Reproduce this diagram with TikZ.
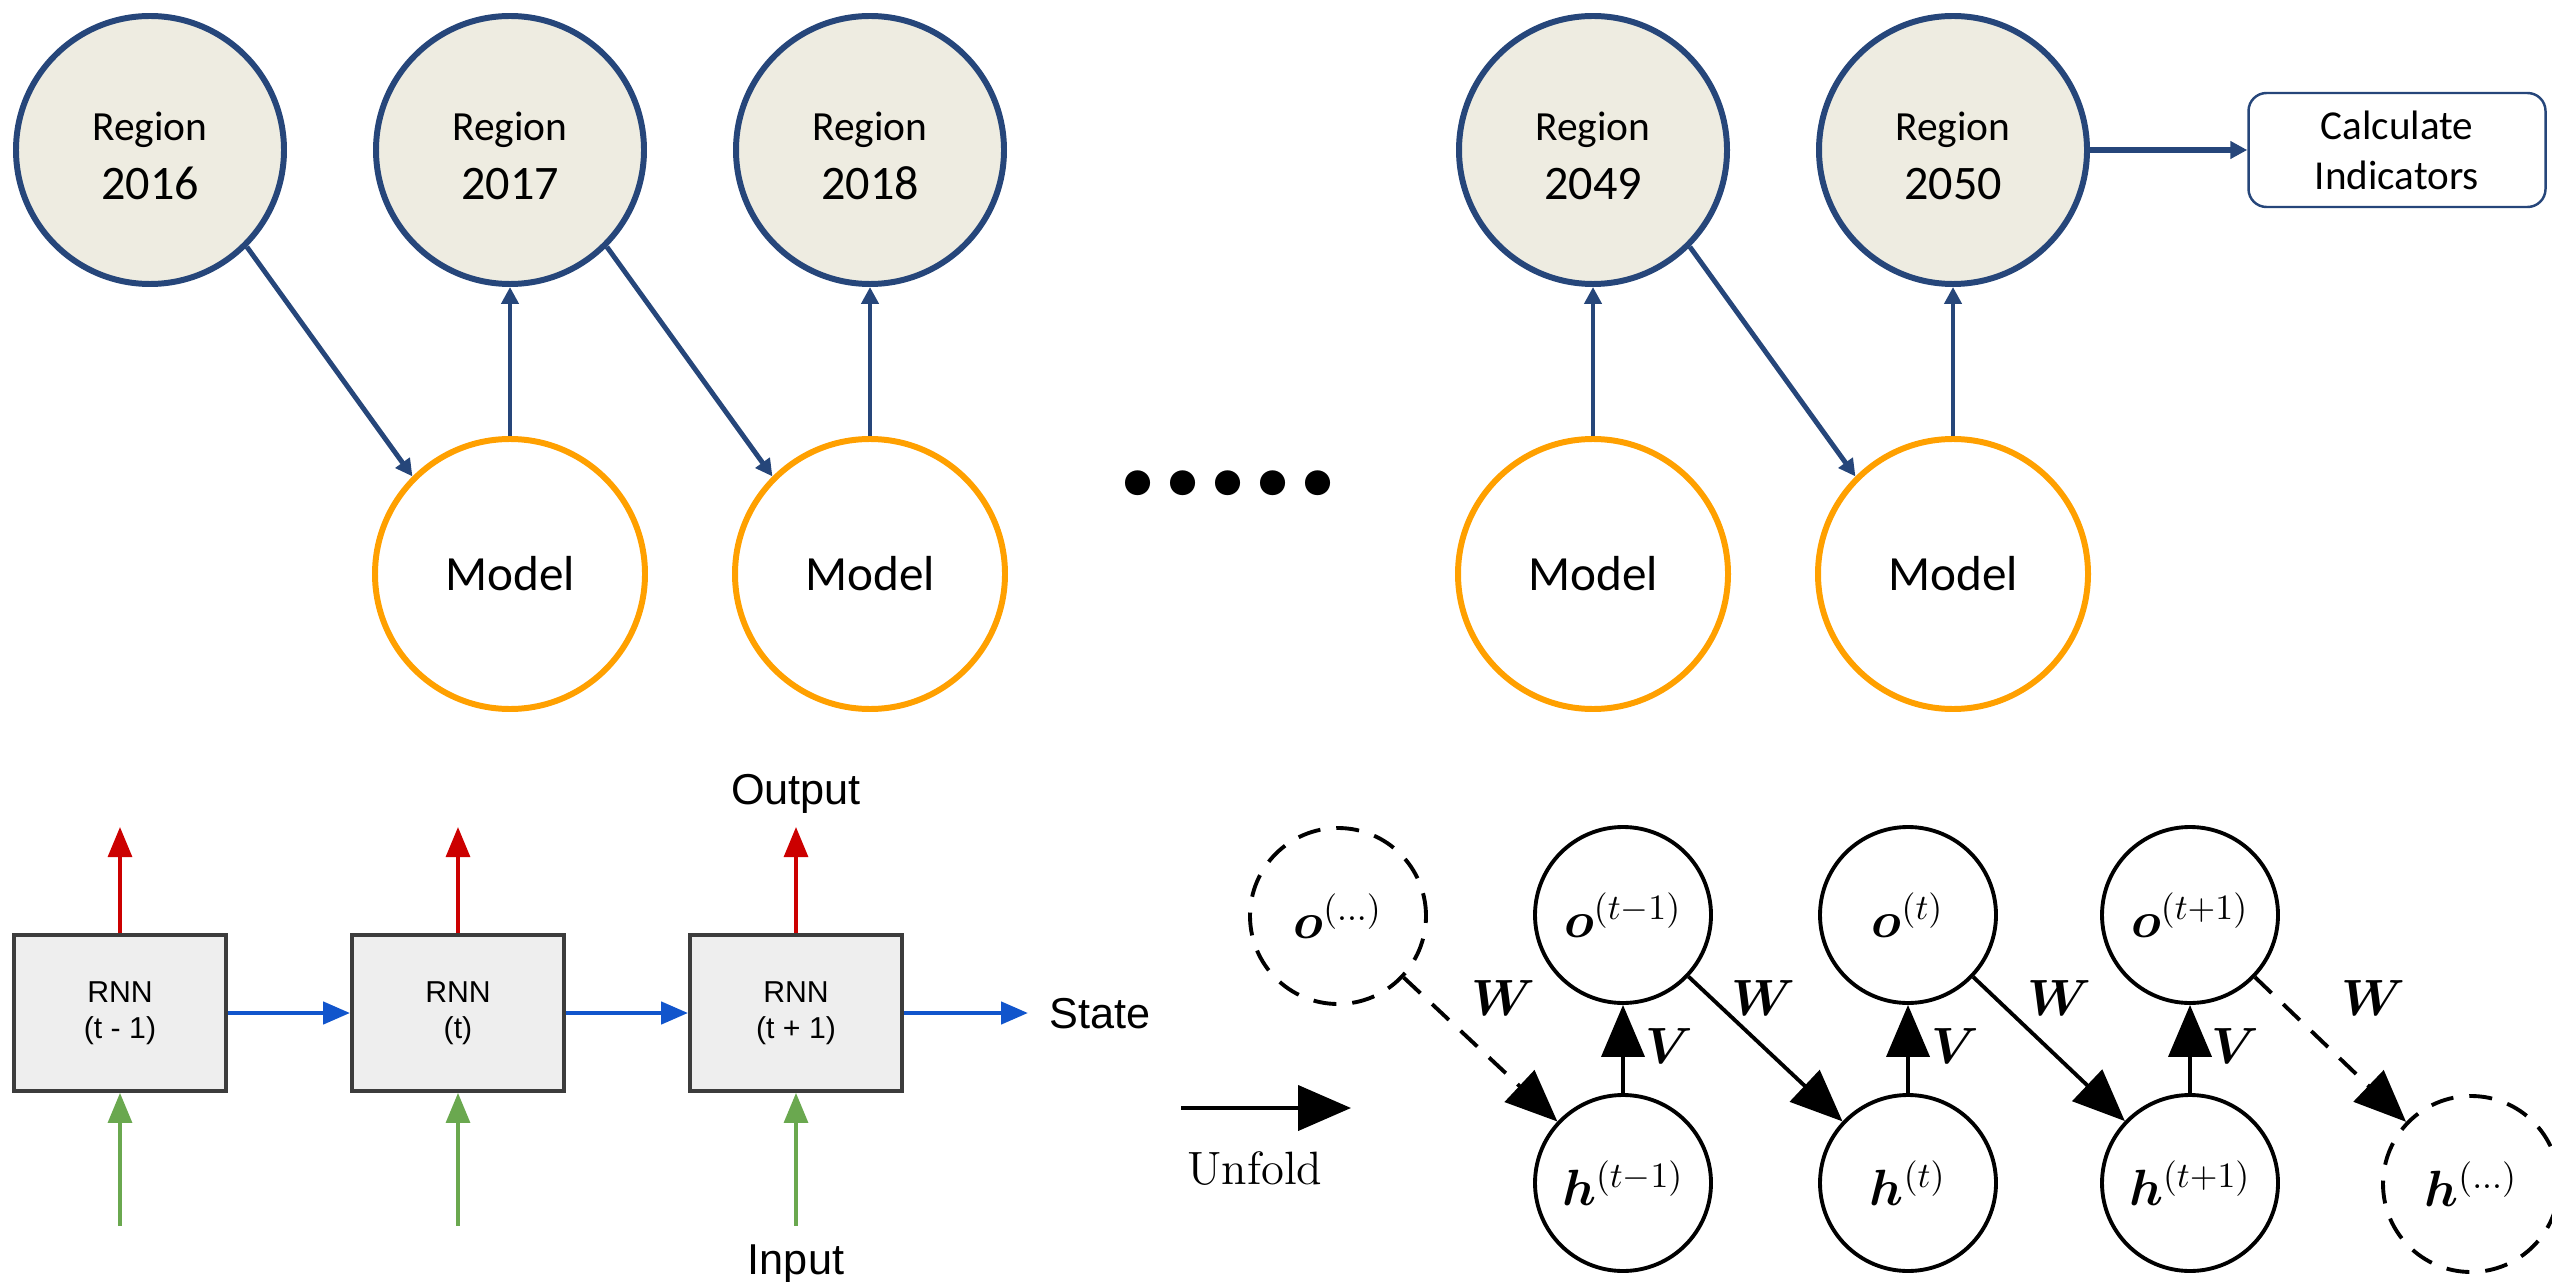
\documentclass[tikz,border=0pt]{standalone}
\usepackage{fix-cm}
\usepackage{bm}
\usepackage{fontspec}
\newfontfamily\calibri{Carlito}
\newfontfamily\arialfont{Liberation Sans}
\usetikzlibrary{arrows.meta,shapes}
\tikzset {>=Stealth}
\definecolor{regblue}{RGB}{38,70,122}
\definecolor{regfill}{RGB}{238,236,225}
\definecolor{modelorange}{RGB}{255,160,0}
\definecolor{rnnfill}{RGB}{238,238,238}
\definecolor{rnnedge}{RGB}{60,60,60}
\definecolor{outred}{RGB}{204,0,0}
\definecolor{ingreen}{RGB}{106,168,79}
\definecolor{stateblue}{RGB}{17,85,204}
\tikzset{
  region/.style={circle,draw=regblue,line width=1.7pt,fill=regfill,minimum size=2.68cm,inner sep=0pt,align=center,font=\calibri\fontsize{11.8}{17}\selectfont},
  model/.style={circle,draw=modelorange,line width=1.7pt,minimum size=2.7cm,inner sep=0pt,font=\calibri\fontsize{14}{17}\selectfont},
  flow/.style={->,>={Triangle[length=1.7mm,width=1.7mm]},draw=regblue,line width=1.4pt},
  rnn/.style={draw=rnnedge,fill=rnnfill,line width=1.1pt,minimum width=2.12cm,minimum height=1.56cm,align=center,font=\arialfont\fontsize{8.6}{10.2}\selectfont},
  rnnarrow/.style={->,>={Triangle[length=3mm,width=2.4mm]},line width=0.9pt},
  plain/.style={inner sep=0pt,font=\arialfont\fontsize{12.3}{14}\selectfont},
  unit/.style={circle,draw,line width=1.1pt,minimum size=1.76cm,inner sep=0pt,font=\fontsize{14.5}{17}\selectfont},
  wlink/.style={->,>={Triangle[length=5.2mm,width=4.3mm]},line width=1.1pt},
  ghost/.style={dash pattern=on 2.3mm off 1.6mm},
  lbl/.style={inner sep=0pt,font=\fontsize{14.5}{17}\selectfont}
}
\newcommand{\yr}[1]{\rule{0pt}{11.5pt}Region\\{\fontsize{13.7}{17}\selectfont #1}}
\begin{document}
\begin{tikzpicture}[x=1cm,y=-1cm]
\useasboundingbox (0,0) rectangle (25.52,12.82);

% year by year chain
\node[region] (r2016) at (1.50,1.50) {\yr{2016}};
\node[region] (r2017) at (5.10,1.50) {\yr{2017}};
\node[region] (r2018) at (8.70,1.50) {\yr{2018}};
\node[region] (r2049) at (15.93,1.50) {\yr{2049}};
\node[region] (r2050) at (19.53,1.50) {\yr{2050}};

\node[model] (m2017) at (5.10,5.74) {Model};
\node[model] (m2018) at (8.70,5.74) {Model};
\node[model] (m2049) at (15.93,5.74) {Model};
\node[model] (m2050) at (19.53,5.74) {Model};

\node[draw=regblue,line width=0.7pt,rounded corners=1.8mm,minimum width=2.97cm,minimum height=1.14cm,align=center,font=\calibri\fontsize{11.7}{14.2}\selectfont] (calc) at (23.97,1.50) {Calculate\\Indicators};
\node[inner sep=0pt,font=\calibri\bfseries\fontsize{48}{48}\selectfont] (dots) at (12.28,4.83) {.....};

\draw[flow] (r2016.-45) -- (m2017.135);
\draw[flow] (m2017) -- (r2017);
\draw[flow] (r2017.-45) -- (m2018.135);
\draw[flow] (m2018) -- (r2018);
\draw[flow] (m2049) -- (r2049);
\draw[flow] (r2049.-45) -- (m2050.135);
\draw[flow] (m2050) -- (r2050);
\draw[flow,line width=1.6pt] (r2050) -- (calc);

% rnn cells
\node[rnn] (c1) at (1.20,10.13) {RNN\\(t - 1)};
\node[rnn] (c2) at (4.58,10.13) {RNN\\(t)};
\node[rnn] (c3) at (7.96,10.13) {RNN\\(t + 1)};
\foreach \i in {1,2,3} {
  \path (c\i.north) ++(0,-1.06) coordinate (top\i);
  \path (c\i.south) ++(0,1.33) coordinate (bot\i);
  \draw[rnnarrow,outred] (c\i.north) -- (top\i);
  \draw[rnnarrow,ingreen] (bot\i) -- (c\i.south);
}
\coordinate (st) at (10.28,10.13);
\draw[rnnarrow,stateblue,line width=1.3pt,>={Triangle[length=2.7mm,width=2.2mm]}] (c1) -- (c2);
\draw[rnnarrow,stateblue,line width=1.3pt,>={Triangle[length=2.7mm,width=2.2mm]}] (c2) -- (c3);
\draw[rnnarrow,stateblue,line width=1.3pt,>={Triangle[length=2.7mm,width=2.2mm]}] (c3) -- (st);
\node[plain,anchor=base] (outlbl) at (7.96,8.04) {Output};
\node[plain,anchor=base] (inlbl) at (7.96,12.74) {Input};
\node[plain,anchor=base west] (stlbl) at (10.49,10.28) {State};

% unfolded graph
\coordinate (u0) at (11.81,11.08);
\coordinate (u1) at (13.51,11.08);
\draw[->,>={Triangle[length=5.3mm,width=4.5mm]},line width=1.2pt] (u0) -- (u1);
\node[inner sep=0pt,anchor=base,font=\fontsize{13.3}{16}\selectfont] (unfold) at (12.55,11.84) {Unfold};

\node[unit,ghost] (o0) at (13.38,9.16) {$\bm{o}^{(\ldots)}$};
\node[unit] (o1) at (16.23,9.15) {$\bm{o}^{(t-1)}$};
\node[unit] (o2) at (19.08,9.15) {$\bm{o}^{(t)}$};
\node[unit] (o3) at (21.90,9.15) {$\bm{o}^{(t+1)}$};
\node[unit] (h1) at (16.23,11.83) {$\bm{h}^{(t-1)}$};
\node[unit] (h2) at (19.08,11.83) {$\bm{h}^{(t)}$};
\node[unit] (h3) at (21.90,11.83) {$\bm{h}^{(t+1)}$};
\node[unit,ghost] (h4) at (24.71,11.84) {$\bm{h}^{(\ldots)}$};

\foreach \i in {1,2,3}
  \draw[wlink] (h\i) -- (o\i);
\draw[wlink,ghost] (o0) -- (h1);
\draw[wlink] (o1) -- (h2);
\draw[wlink] (o2) -- (h3);
\draw[wlink,ghost] (o3) -- (h4);

\node[lbl] (w1) at (15.03,9.98) {$\bm{W}$};
\node[lbl] (w2) at (17.63,9.98) {$\bm{W}$};
\node[lbl] (w3) at (20.59,9.98) {$\bm{W}$};
\node[lbl] (w4) at (23.73,9.98) {$\bm{W}$};
\node[lbl] (v1) at (16.69,10.46) {$\bm{V}$};
\node[lbl] (v2) at (19.55,10.46) {$\bm{V}$};
\node[lbl] (v3) at (22.35,10.46) {$\bm{V}$};
\end{tikzpicture}
\end{document}
